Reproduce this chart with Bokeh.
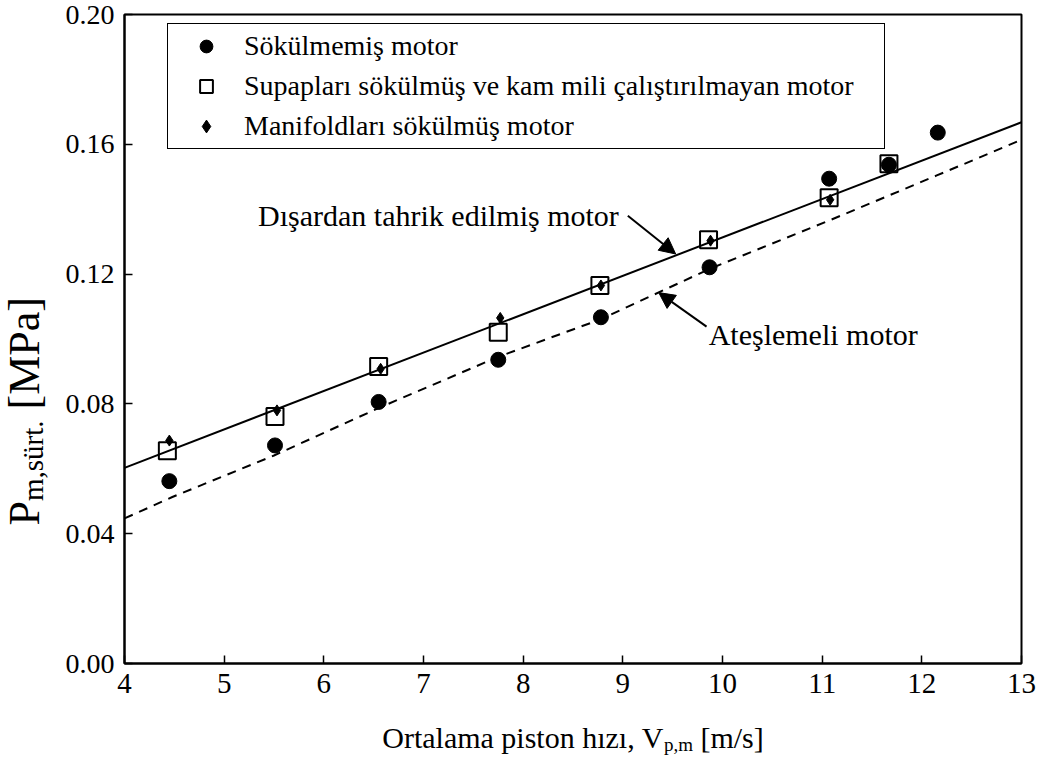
import math

from bokeh.plotting import figure
from bokeh.layouts import column, row
from bokeh.models import (FixedTicker, NumeralTickFormatter, Legend, LegendItem,
                          Label, Arrow, NormalHead, Range1d)
from bokeh.embed import file_html
from bokeh.resources import INLINE

# Mean piston speed [m/s] and friction mean effective pressure [MPa]
speed_intact = [4.45, 5.51, 6.55, 7.75, 8.78, 9.87, 11.07, 11.67, 12.16]
fmep_intact = [0.0562, 0.0672, 0.0806, 0.0936, 0.1067, 0.1221, 0.1494, 0.1537, 0.1636]

speed_valves = [4.43, 5.51, 6.55, 7.75, 8.77, 9.86, 11.07, 11.67]
fmep_valves = [0.0656, 0.0761, 0.0915, 0.1021, 0.1165, 0.1306, 0.1435, 0.1540]

speed_manifold = [4.45, 5.53, 6.57, 7.77, 8.78, 9.88, 11.08, 11.68]
fmep_manifold = [0.0687, 0.0780, 0.0908, 0.1065, 0.1165, 0.1303, 0.1429, 0.1535]

# Motored engine trend (straight) and fired engine trend (dashed)
motored_speed = [4.0, 13.0]
motored_fmep = [0.0603, 0.1668]

fired_speed = [4.0, 4.48, 5.5, 6.57, 7.75, 8.78, 9.87, 11.07, 12.15, 13.0]
fired_fmep = [0.0447, 0.0513, 0.0641, 0.0790, 0.0945, 0.1061, 0.1216, 0.1365, 0.1504, 0.1614]

x_ticks = [4, 5, 6, 7, 8, 9, 10, 11, 12, 13]
y_ticks = [0.00, 0.04, 0.08, 0.12, 0.16, 0.20]

legend_labels = ["Sökülmemiş motor",
                 "Supapları sökülmüş ve kam mili çalıştırılmayan motor",
                 "Manifoldları sökülmüş motor"]

FONT = "Liberation Serif"
W, H = 1043, 769
TITLE_W = 55           # strip holding the vertical axis title
MAIN_H = 715           # main plot height; the horizontal title sits below it
X_RANGE = (4.0, 13.0)
Y_RANGE = (0.0, 0.20)
BORDER_L, BORDER_R, BORDER_T = 124, 22, 14
FRAME_W = W - BORDER_L - BORDER_R            # 897 px
FRAME_H = 663 - BORDER_T                     # 649 px
PX_X = (X_RANGE[1] - X_RANGE[0]) / FRAME_W   # data units per px
PX_Y = (Y_RANGE[1] - Y_RANGE[0]) / FRAME_H

# Approximate advance widths (em) of the serif face, used to chain text runs
ADV = {" ": .25, ",": .25, ".": .25, "[": .333, "]": .333, "/": .278,
       "O": .722, "V": .722, "P": .556, "M": .889,
       "a": .444, "e": .444, "h": .5, "i": .278, "ı": .278, "l": .278, "m": .778,
       "n": .5, "o": .5, "p": .5, "r": .333, "s": .389, "t": .278, "ü": .5,
       "z": .444}


def text_width(s, size):
    return sum(ADV.get(c, .5) for c in s) * size


def strip(width, height, x_range, y_range, **borders):
    """Blank figure used to hold axis-title text."""
    f = figure(width=width, height=height, output_backend="svg", toolbar_location=None,
               x_axis_location=None, y_axis_location=None,
               x_range=Range1d(*x_range), y_range=Range1d(*y_range),
               min_border=0, **borders)
    f.grid.visible = False
    f.outline_line_color = None
    f.background_fill_color = "white"
    f.border_fill_color = "white"
    return f


def runs(fig, parts, x0, y0, ux, uy, vertical=False):
    """Lay out text runs one after another.

    parts are (text, font size, baseline shift px, gap before the run px);
    ux, uy convert pixels to the figure's data units."""
    pos = 0.0
    for text, size, shift, gap in parts:
        pos += gap
        if vertical:
            x, y = x0 + shift * ux, y0 + pos * uy
        else:
            x, y = x0 + pos * ux, y0 - shift * uy
        fig.add_layout(Label(x=x, y=y, text=text,
                             angle=math.pi / 2 if vertical else 0.0,
                             text_font=FONT, text_font_size=f"{size}px",
                             text_align="left", text_baseline="alphabetic",
                             text_color="black"))
        pos += text_width(text, size)


p = figure(width=W - TITLE_W, height=MAIN_H, output_backend="svg", toolbar_location=None,
           x_range=Range1d(*X_RANGE), y_range=Range1d(*Y_RANGE),
           min_border_left=BORDER_L - TITLE_W, min_border_right=BORDER_R,
           min_border_top=BORDER_T, min_border_bottom=MAIN_H - 663)
p.background_fill_color = "white"
p.border_fill_color = "white"
p.xgrid.visible = False
p.ygrid.visible = False
p.outline_line_color = "black"
p.outline_line_width = 2
p.outline_line_alpha = 1

for ax in (p.xaxis[0], p.yaxis[0]):
    ax.axis_label = None
    ax.major_tick_in = 8
    ax.major_tick_out = 0
    ax.minor_tick_line_color = None
    ax.axis_line_width = 2
    ax.major_tick_line_width = 1.5
    ax.major_label_text_font = FONT
    ax.major_label_text_color = "black"
    ax.major_label_standoff = 10
p.xaxis.major_label_text_font_size = "29px"
p.yaxis.major_label_text_font_size = "28px"

p.xaxis.ticker = FixedTicker(ticks=x_ticks)
p.yaxis.ticker = FixedTicker(ticks=y_ticks)
p.yaxis.formatter = NumeralTickFormatter(format="0.00")

# Trend lines
p.line(motored_speed, motored_fmep, line_color="black", line_width=2)
p.line(fired_speed, fired_fmep, line_color="black", line_width=2, line_dash="9 7")

# Measurements
r_valves = p.scatter(speed_valves, fmep_valves, marker="square", size=17,
                     fill_color=None, line_color="black", line_width=2)
r_manifold = p.scatter(speed_manifold, fmep_manifold, marker="diamond", size=11,
                       fill_color="black", line_color="black", line_width=1)
r_intact = p.scatter(speed_intact, fmep_intact, marker="circle", size=15,
                     fill_color="black", line_color="black")

legend = Legend(
    items=[LegendItem(label=legend_labels[0], renderers=[r_intact]),
           LegendItem(label=legend_labels[1], renderers=[r_valves]),
           LegendItem(label=legend_labels[2], renderers=[r_manifold])],
    location=(43, 514), orientation="vertical",
    border_line_color="black", border_line_width=1.5, border_line_alpha=1,
    background_fill_color="white", background_fill_alpha=1,
    padding=6, spacing=8, margin=0,
    glyph_width=64, glyph_height=32, label_height=32, label_width=634,
    label_standoff=6,
    label_text_font=FONT, label_text_font_size="28px", label_text_color="black",
)
p.add_layout(legend)

# Curve annotations with arrows
p.add_layout(Label(x=7.15, y=0.1381, text="Dışardan tahrik edilmiş motor",
                   text_font=FONT, text_font_size="30px", text_align="center",
                   text_baseline="alphabetic", text_color="black"))
p.add_layout(Arrow(end=NormalHead(size=16, fill_color="black", line_color="black"),
                   x_start=9.05, y_start=0.1380, x_end=9.53, y_end=0.1262,
                   line_color="black", line_width=2))

p.add_layout(Label(x=10.91, y=0.1014, text="Ateşlemeli motor",
                   text_font=FONT, text_font_size="30px", text_align="center",
                   text_baseline="alphabetic", text_color="black"))
p.add_layout(Arrow(end=NormalHead(size=16, fill_color="black", line_color="black"),
                   x_start=9.84, y_start=0.1038, x_end=9.36, y_end=0.1143,
                   line_color="black", line_width=2))

# Vertical axis title: strip shares the plot's vertical scale
ytitle = strip(TITLE_W, MAIN_H, (0, TITLE_W), Y_RANGE,
               min_border_top=BORDER_T, min_border_bottom=MAIN_H - 663)
y_parts = [("P", 44, 0, 0), ("m,sürt.", 29, 8, 0), ("[MPa]", 44, 0, 11)]
runs(ytitle, y_parts, 24, (663 - 525) * PX_Y, 1.0, PX_Y, vertical=True)

# Horizontal axis title: strip shares the plot's horizontal scale
xtitle = strip(W, H - MAIN_H, X_RANGE, (0, H - MAIN_H),
               min_border_left=BORDER_L, min_border_right=BORDER_R)
x_parts = [("Ortalama piston hızı, V", 30, 0, 0), ("p,m", 19, 7, 0), ("[m/s]", 30, 0, 7.5)]
x_total = sum(text_width(t, s) + g for t, s, _, g in x_parts)
runs(xtitle, x_parts, sum(X_RANGE) / 2 - x_total / 2 * PX_X, 32, PX_X, 1.0)

page = column(row(ytitle, p, spacing=0), xtitle, spacing=0)
open("out.html", "w").write(file_html(page, INLINE))
